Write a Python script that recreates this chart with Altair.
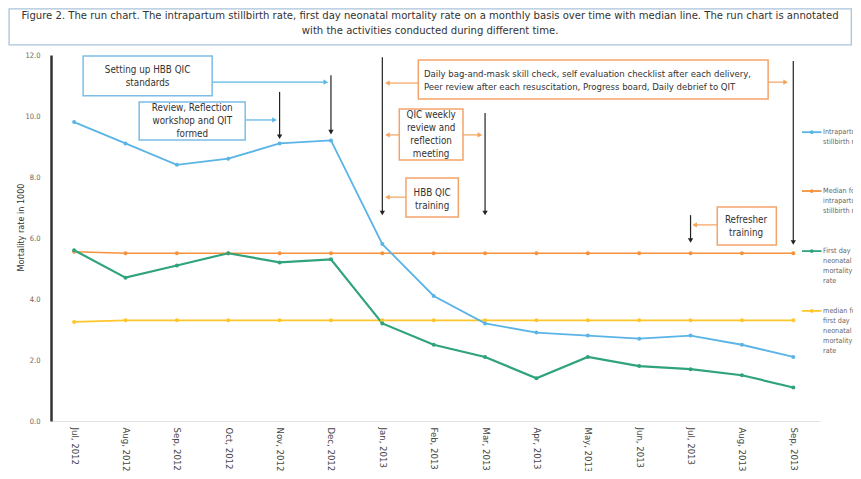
import altair as alt
import pandas as pd

FONT = "Liberation Sans Narrow, DejaVu Sans Condensed, Liberation Sans, sans-serif"

# ---------------- data ----------------
months = ["Jul, 2012", "Aug, 2012", "Sep, 2012", "Oct, 2012", "Nov, 2012", "Dec, 2012",
          "Jan, 2013", "Feb, 2013", "Mar, 2013", "Apr, 2013", "May, 2013", "Jun, 2013",
          "Jul, 2013", "Aug, 2013", "Sep, 2013"]
stillbirth = [9.8, 9.1, 8.4, 8.6, 9.1, 9.2, 5.8, 4.1, 3.2, 2.9, 2.8, 2.7, 2.8, 2.5, 2.1]
median_still = [5.55, 5.5, 5.5, 5.5, 5.5, 5.5, 5.5, 5.5, 5.5, 5.5, 5.5, 5.5, 5.5, 5.5, 5.5]
neonatal = [5.6, 4.7, 5.1, 5.5, 5.2, 5.3, 3.2, 2.5, 2.1, 1.4, 2.1, 1.8, 1.7, 1.5, 1.1]
median_neo = [3.25, 3.3, 3.3, 3.3, 3.3, 3.3, 3.3, 3.3, 3.3, 3.3, 3.3, 3.3, 3.3, 3.3, 3.3]

series_names = ["Median for intrapartum stillbirth rate", "median for first day neonatal mortality rate",
                "Intrapartum stillbirth rate", "First day neonatal mortality rate"]
series_values = [median_still, median_neo, stillbirth, neonatal]
series_colors = ["#F5923E", "#FFC62C", "#5AB4E5", "#2FA37D"]
series_widths = [1.6, 1.8, 1.8, 2.2]

legend_labels = ["Intrapartum\nstillbirth rate", "Median for\nintrapartum\nstillbirth rate",
                 "First day\nneonatal\nmortality\nrate", "median for\nfirst day\nneonatal\nmortality\nrate"]
legend_colors = ["#5AB4E5", "#F5923E", "#2FA37D", "#FFC62C"]
legend_y = [9.47, 7.54, 5.57, 3.61]

title_text = ("Figure 2. The run chart. The  intrapartum stillbirth  rate, first day neonatal mortality rate on a "
              "monthly basis over time with median line. The run chart is annotated\nwith the activities conducted during different time.")

# annotation boxes: x, x2, y, y2 (month index / rate units), stroke
box_x = [0.175, 1.266, 6.70, 6.33, 6.46, 12.52]
box_x2 = [2.687, 3.33, 13.51, 7.57, 7.48, 13.67]
box_y = [11.97, 10.46, 11.84, 10.23, 7.97, 7.02]
box_y2 = [10.66, 9.21, 10.56, 8.56, 6.69, 5.77]
box_stroke = ["#7DBDE6", "#7DBDE6", "#F3A469", "#F3A469", "#F3A469", "#F3A469"]

# texts: position of the first line
ctext_x = [1.43, 2.3, 6.95, 6.97, 13.08]
ctext_y = [11.51, 10.26, 10.03, 7.48, 6.59]
ctext = ["Setting up HBB QIC\nstandards", "Review, Reflection\nworkshop and QIT\nformed",
         "QIC weekly\nreview and\nreflection\nmeeting", "HBB QIC\ntraining", "Refresher\ntraining"]
ltext_x = [6.81]
ltext_y = [11.38]
ltext = ["Daily bag-and-mask skill check, self evaluation checklist after each delivery,\n"
         "Peer review after each resuscitation, Progress board, Daily debrief to QIT"]

# arrows: start x, start y, end x, end y, colour, head shape
arr_x = [4, 5, 6, 8, 12, 14, 2.687, 3.33, 6.70, 13.51, 6.33, 7.57, 6.46, 12.52]
arr_y = [10.79, 11.34, 11.93, 10.10, 6.75, 11.80, 11.11, 9.87, 11.08, 11.11, 9.38, 9.38, 7.34, 6.43]
arr_x2 = [4, 5, 6, 8, 12, 14, 4.9, 3.9, 6.1, 13.85, 6.1, 7.9, 6.1, 12.08]
arr_y2 = [9.32, 9.47, 6.82, 6.82, 5.92, 5.85, 11.11, 9.87, 11.08, 11.11, 9.38, 9.38, 7.34, 6.43]
arr_col = ["#222222"] * 6 + ["#5AB4E5", "#5AB4E5"] + ["#F5A25D"] * 6
arr_shape = ["triangle-down"] * 6 + ["triangle-right", "triangle-right", "triangle-left", "triangle-right",
                                      "triangle-left", "triangle-right", "triangle-left", "triangle-left"]

# ---------------- tables ----------------
rows = []
for name, vals, col, w in zip(series_names, series_values, series_colors, series_widths):
    for i, v in enumerate(vals):
        rows.append({"idx": i, "rate": v, "series": name, "col": col, "w": w})
lines_df = pd.DataFrame(rows)

boxes_df = pd.DataFrame({"x": box_x, "x2": box_x2, "y": box_y, "y2": box_y2, "stroke": box_stroke})
ctext_df = pd.DataFrame({"x": ctext_x, "y": ctext_y, "t": ctext})
ltext_df = pd.DataFrame({"x": ltext_x, "y": ltext_y, "t": ltext})
arr_df = pd.DataFrame({"x": arr_x, "y": arr_y, "x2": arr_x2, "y2": arr_y2, "c": arr_col, "s": arr_shape})
leg_df = pd.DataFrame({"lab": legend_labels, "c": legend_colors, "y": legend_y,
                       "x1": [14.17] * 4, "x2": [14.55] * 4, "xm": [14.36] * 4, "xt": [14.58] * 4})
title_df = pd.DataFrame({"x": [-1.266], "x2": [15.13], "y": [13.51], "y2": [12.33],
                         "tx": [6.93], "ty": [13.28], "t": [title_text]})

XS = alt.Scale(domain=[-0.45, 14.52], nice=False, zero=False)
YS = alt.Scale(domain=[0, 12], nice=False, zero=False)
label_arr = "[" + ",".join("'" + m + "'" for m in months) + "]"

x_axis = alt.Axis(values=list(range(15)), labelExpr=label_arr + "[datum.value]", title=None,
                  labelAngle=90, labelPadding=6, labelFontSize=9.5, labelColor="#444", ticks=False,
                  domainColor="#e3e3e3", domainWidth=1, grid=False, labelFont=FONT)
y_axis = alt.Axis(values=[0, 2, 4, 6, 8, 10, 12], format=".1f", title="Mortality rate in 1000",
                  ticks=False, labelPadding=11, labelFontSize=7.5, labelColor="#666", domainColor="#333",
                  domainWidth=2.5, grid=False, labelFont=FONT, titleFont=FONT, titleFontSize=9,
                  titleFontWeight="normal", titleColor="#333", titleX=-31, titleY=172,
                  titleBaseline="middle")


def X(f):
    return alt.X(f, type="quantitative", scale=XS, axis=x_axis)


def Y(f):
    return alt.Y(f, type="quantitative", scale=YS, axis=y_axis)


lines = alt.Chart(lines_df).mark_line(
    point=alt.OverlayMarkDef(filled=True, size=16)).encode(
    x=X("idx"), y=Y("rate"),
    color=alt.Color("col:N", scale=None),
    strokeWidth=alt.StrokeWidth("w:Q", scale=None),
    detail="series:N",
    order=alt.Order("idx:Q"))

title_box = alt.Chart(title_df).mark_rect(fill="white", stroke="#A9C4DC", strokeWidth=1.3).encode(
    x=X("x"), x2="x2", y=Y("y"), y2="y2")
title_txt = alt.Chart(title_df).mark_text(font=FONT, fontSize=11.2, color="#333", lineBreak="\n",
                                          lineHeight=15, align="center", baseline="middle").encode(
    x=X("tx"), y=Y("ty"), text="t:N")

arrows = alt.Chart(arr_df).mark_rule(strokeWidth=1.2).encode(
    x=X("x"), y=Y("y"), x2="x2", y2="y2", color=alt.Color("c:N", scale=None))
heads = alt.Chart(arr_df).mark_point(filled=True, size=28, opacity=1).encode(
    x=X("x2"), y=Y("y2"), color=alt.Color("c:N", scale=None), shape=alt.Shape("s:N", scale=None))

boxes = alt.Chart(boxes_df).mark_rect(fill="white", strokeWidth=1.5).encode(
    x=X("x"), x2="x2", y=Y("y"), y2="y2", stroke=alt.Stroke("stroke:N", scale=None))
ctexts = alt.Chart(ctext_df).mark_text(font=FONT, fontSize=9.8, color="#333", lineBreak="\n",
                                       lineHeight=13, align="center", baseline="middle").encode(
    x=X("x"), y=Y("y"), text="t:N")
ltexts = alt.Chart(ltext_df).mark_text(font=FONT, fontSize=9.5, color="#333", lineBreak="\n",
                                       lineHeight=13, align="left", baseline="middle").encode(
    x=X("x"), y=Y("y"), text="t:N")

leg_lines = alt.Chart(leg_df).mark_rule(strokeWidth=1.8).encode(
    x=X("x1"), x2="x2", y=Y("y"), color=alt.Color("c:N", scale=None))
leg_pts = alt.Chart(leg_df).mark_point(filled=True, size=14, opacity=1).encode(
    x=X("xm"), y=Y("y"), color=alt.Color("c:N", scale=None))
leg_txt = alt.Chart(leg_df).mark_text(font=FONT, fontSize=7.2, color="#666", lineBreak="\n",
                                      lineHeight=10, align="left", baseline="middle").encode(
    x=X("xt"), y=Y("y"), text="lab:N")

chart = alt.layer(
    lines, title_box, title_txt, arrows, boxes, ctexts, ltexts, heads, leg_lines, leg_pts, leg_txt
).properties(
    width=769, height=366,
    padding={"left": 43, "top": 47, "right": 33, "bottom": 50},
    autosize=alt.AutoSizeParams(type="none"),
).configure(font=FONT, background="white").configure_view(stroke=None)

chart.save("out.html", embed_options={"renderer": "svg", "actions": False})
